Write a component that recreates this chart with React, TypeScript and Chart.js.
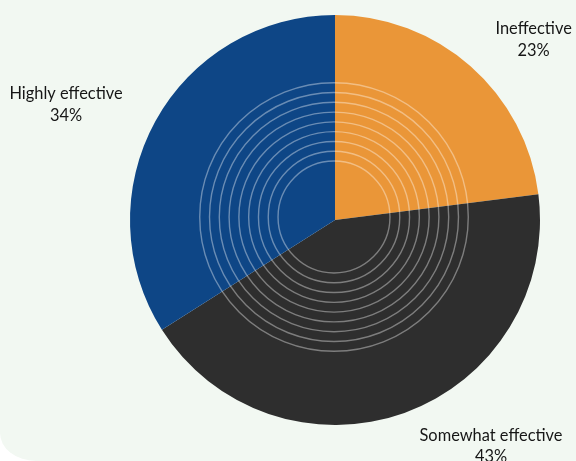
import React, { useEffect, useRef } from "react";
import { Chart, registerables } from "chart.js";

Chart.register(...registerables);

const categories = ["Ineffective", "Somewhat effective", "Highly effective"];
const values = [23, 43, 34];
const colors = ["#ea9638", "#2e2e2e", "#0e4686"];

// label anchors relative to pie center, in units of the pie radius
const labelOffsets = [
  { dx: 0.969, dy: -0.906 },
  { dx: 0.761, dy: 1.078 },
  { dx: -1.312, dy: -0.59 },
];

const ringsPlugin = {
  id: "rings",
  afterDatasetsDraw(chart: any) {
    const meta = chart.getDatasetMeta(0);
    const arc = meta.data[0];
    if (!arc) return;
    const { x, y, outerRadius } = arc;
    const ctx = chart.ctx;
    ctx.save();
    ctx.strokeStyle = "rgba(255,255,255,0.38)";
    ctx.lineWidth = 1.4;
    const n = 9;
    const r0 = 0.273 * outerRadius;
    const r1 = 0.655 * outerRadius;
    for (let i = 0; i < n; i++) {
      const r = r0 + ((r1 - r0) * i) / (n - 1);
      ctx.beginPath();
      ctx.arc(x - 1, y - 3, r, 0, Math.PI * 2);
      ctx.stroke();
    }
    ctx.restore();
  },
};

const labelsPlugin = {
  id: "outLabels",
  afterDraw(chart: any) {
    const meta = chart.getDatasetMeta(0);
    const ctx = chart.ctx;
    const total = values.reduce((a, b) => a + b, 0);
    ctx.save();
    ctx.fillStyle = "#161616";
    ctx.textAlign = "center";
    ctx.textBaseline = "alphabetic";
    ctx.font = "16.4px Lato, 'Noto Sans', sans-serif";
    meta.data.forEach((arc: any, i: number) => {
      const { x, y, outerRadius } = arc;
      const lx = x + labelOffsets[i].dx * outerRadius;
      const ly = y + labelOffsets[i].dy * outerRadius;
      ctx.fillText(categories[i], lx, ly);
      ctx.fillText(Math.round((values[i] / total) * 100) + "%", lx, ly + 21.5);
    });
    ctx.restore();
  },
};

export default function App() {
  const ref = useRef<HTMLCanvasElement>(null);
  useEffect(() => {
    document.body.style.margin = "0";
    const chart = new Chart(ref.current!, {
      type: "pie",
      data: {
        labels: categories,
        datasets: [
          {
            data: values,
            backgroundColor: colors,
            borderWidth: 0,
          },
        ],
      },
      options: {
        responsive: false,
        animation: false,
        layout: { padding: { left: 130, right: 36, top: 15, bottom: 36 } },
        plugins: {
          legend: { display: false },
          tooltip: { enabled: false },
        },
      },
      plugins: [ringsPlugin, labelsPlugin],
    });
    return () => chart.destroy();
  }, []);
  return (
    <div
      style={{
        position: "absolute",
        left: 0,
        top: 0,
        width: 576,
        height: 461,
        overflow: "hidden",
        background: "#ffffff",
      }}
    >
      <div
        style={{
          position: "absolute",
          left: 0,
          top: 0,
          width: 576,
          height: 461,
          background: "#f2f8f2",
          borderBottomLeftRadius: "36px 28px",
        }}
      />
      <canvas
        ref={ref}
        width={576}
        height={461}
        style={{ position: "absolute", left: 0, top: 0 }}
      />
    </div>
  );
}
